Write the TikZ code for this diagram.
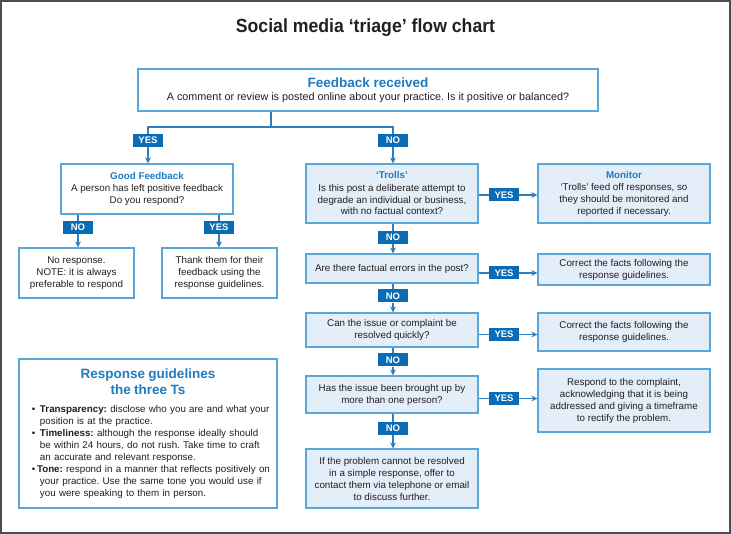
\documentclass[tikz,border=0pt]{standalone}
\usepackage{fontspec}
\usepackage{graphicx}
\setmainfont{Liberation Sans}
\usetikzlibrary{arrows.meta}
\definecolor{hblue}{HTML}{1F7BC0}
\definecolor{lblue}{HTML}{0A6DB3}
\definecolor{bord}{HTML}{5AA6D8}
\definecolor{fillb}{HTML}{E3EEF9}
\definecolor{txt}{HTML}{231F20}
\definecolor{framec}{HTML}{4D4D4D}
\definecolor{connc}{HTML}{2E7EC0}
\tikzset{
  box/.style={draw=bord, line width=1.2pt, fill=white, align=center, inner sep=2pt,
    text=txt, font=\fontsize{9.8}{12}\selectfont\frenchspacing},
  bbox/.style={box, fill=fillb},
  tag/.style={fill=lblue, text=white, font=\fontsize{9.5}{10}\selectfont\bfseries,
    minimum width=30pt, minimum height=13pt, inner sep=0pt},
  conn/.style={draw=connc, line width=1.2pt},
  arr/.style={conn, -{Stealth[length=6pt,width=6pt]}},
}
\newcommand{\hd}[1]{{\color{hblue}\bfseries #1}}
\begin{document}
\begin{tikzpicture}[x=1pt,y=-1pt]
\useasboundingbox (0,0) rectangle (731,534);
\draw[framec, line width=1.5pt] (1,1) rectangle (730,533);

\node[text=txt, font=\fontsize{19}{20}\selectfont\bfseries] (title) at (365.5,27.5)
  {\scalebox{0.93}[1]{Social media ‘triage’ flow chart}};

\node[box, minimum width=460pt, minimum height=42pt] (top) at (368,90)
  {{\color{hblue}\fontsize{13.5}{15}\selectfont\bfseries Feedback received}\\[1.5pt]
   {\fontsize{10.8}{13}\selectfont A comment or review is posted online about your practice. Is it positive or balanced?}};

\coordinate (j) at (271,127);
\node[tag] (yes1) at (148,140.5) {YES};
\node[tag] (no1) at (393,140.5) {NO};

\node[box, minimum width=172pt, minimum height=50pt] (good) at (147,189)
  {\hd{Good Feedback}\\A person has left positive feedback\\Do you respond?};
\node[tag] (no2) at (78,227.5) {NO};
\node[tag] (yes2) at (219,227.5) {YES};
\node[box, minimum width=115pt, minimum height=50pt] (noresp) at (76.5,273)
  {No response.\\NOTE: it is always\\preferable to respond};
\node[box, minimum width=115pt, minimum height=50pt] (thank) at (219.5,273)
  {Thank them for their\\feedback using the\\response guidelines.};

\node[box, minimum width=258pt, minimum height=149pt, text width=250pt, align=left] (guide) at (148,433.5)
  {{\centering\color{hblue}\fontsize{13.5}{16}\selectfont\bfseries Response guidelines\\the three Ts\par}
   \vspace{6pt}
   \hspace*{9pt}\makebox[8pt][l]{•}\textbf{Transparency:} disclose who you are and what your\\
   \hspace*{17pt}position is at the practice.\\
   \hspace*{9pt}\makebox[8pt][l]{•}\textbf{Timeliness:} although the response ideally should\\
   \hspace*{17pt}be within 24 hours, do not rush. Take time to craft\\
   \hspace*{17pt}an accurate and relevant response.\\
   \hspace*{9pt}\makebox[5pt][l]{•}\textbf{Tone:} respond in a manner that reflects positively on\\
   \hspace*{17pt}your practice. Use the same tone you would use if\\
   \hspace*{17pt}you were speaking to them in person.};

\node[bbox, minimum width=172pt, minimum height=59pt] (trolls) at (392,193.5)
  {\hd{‘Trolls’}\\Is this post a deliberate attempt to\\degrade an individual or business,\\with no factual context?};
\node[bbox, minimum width=172pt, minimum height=59pt] (monitor) at (624,193.5)
  {\hd{Monitor}\\‘Trolls’ feed off responses, so\\they should be monitored and\\reported if necessary.};
\node[tag] (yes3) at (504,195) {YES};
\node[tag] (no3) at (393,237.5) {NO};

\node[bbox, minimum width=172pt, minimum height=29pt] (fact) at (392,268.5)
  {Are there factual errors in the post?};
\node[bbox, minimum width=172pt, minimum height=31pt] (corr1) at (624,269.5)
  {Correct the facts following the\\response guidelines.};
\node[tag] (yes4) at (504,273) {YES};
\node[tag] (no4) at (393,296) {NO};

\node[bbox, minimum width=172pt, minimum height=34pt] (quick) at (392,330)
  {Can the issue or complaint be\\resolved quickly?};
\node[bbox, minimum width=172pt, minimum height=38pt] (corr2) at (624,332)
  {Correct the facts following the\\response guidelines.};
\node[tag] (yes5) at (504,334.5) {YES};
\node[tag] (no5) at (393,360) {NO};

\node[bbox, minimum width=172pt, minimum height=37pt] (many) at (392,394.5)
  {Has the issue been brought up by\\more than one person?};
\node[bbox, minimum width=172pt, minimum height=63pt] (respond) at (624,400.5)
  {Respond to the complaint,\\acknowledging that it is being\\addressed and giving a timeframe\\to rectify the problem.};
\node[tag] (yes6) at (504,398.5) {YES};
\node[tag] (no6) at (393,428.5) {NO};

\node[bbox, minimum width=172pt, minimum height=59pt] (final) at (392,478.5)
  {If the problem cannot be resolved\\in a simple response, offer to\\contact them via telephone or email\\to discuss further.};

% connectors
\draw[conn] (top.south -| j) -- (j);
\draw[conn] (j) -| (yes1.north);
\draw[conn] (j) -| (no1.north);
\draw[arr] (yes1.south) -- (yes1.south |- good.north);
\draw[arr] (no1.south) -- (no1.south |- trolls.north);

\draw[conn] (good.south -| no2) -- (no2.north);
\draw[conn] (good.south -| yes2) -- (yes2.north);
\draw[arr] (no2.south) -- (no2.south |- noresp.north);
\draw[arr] (yes2.south) -- (yes2.south |- thank.north);

\draw[conn] (trolls.east |- yes3) -- (yes3.west);
\draw[arr] (yes3.east) -- (yes3.east -| monitor.west);
\draw[conn] (trolls.south -| no3) -- (no3.north);
\draw[arr] (no3.south) -- (no3.south |- fact.north);

\draw[conn] (fact.east |- yes4) -- (yes4.west);
\draw[arr] (yes4.east) -- (yes4.east -| corr1.west);
\draw[conn] (fact.south -| no4) -- (no4.north);
\draw[arr] (no4.south) -- (no4.south |- quick.north);

\draw[conn] (quick.east |- yes5) -- (yes5.west);
\draw[arr] (yes5.east) -- (yes5.east -| corr2.west);
\draw[conn] (quick.south -| no5) -- (no5.north);
\draw[arr] (no5.south) -- (no5.south |- many.north);

\draw[conn] (many.east |- yes6) -- (yes6.west);
\draw[arr] (yes6.east) -- (yes6.east -| respond.west);
\draw[conn] (many.south -| no6) -- (no6.north);
\draw[arr] (no6.south) -- (no6.south |- final.north);
\end{tikzpicture}
\end{document}
